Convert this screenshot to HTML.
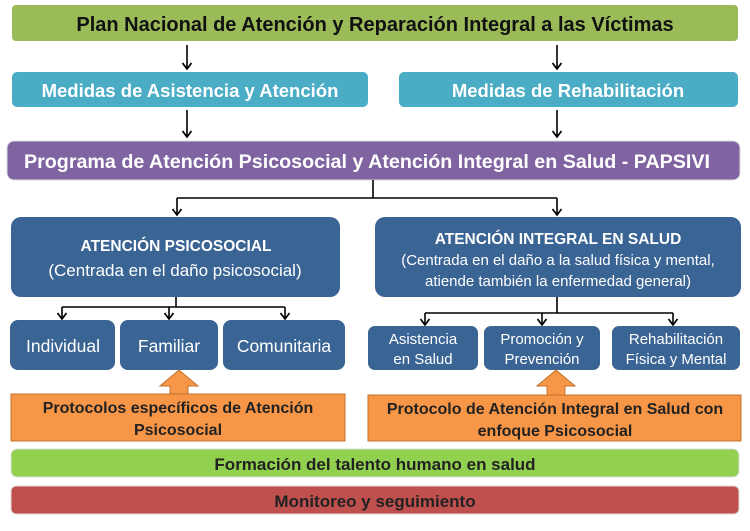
<!DOCTYPE html>
<html><head><meta charset="utf-8"><style>
html,body{margin:0;padding:0;background:#fff;}
svg{display:block;font-family:"Liberation Sans",sans-serif;}
</style></head><body>
<svg width="750" height="531" viewBox="0 0 750 531" xmlns="http://www.w3.org/2000/svg">
<defs>
<marker id="a" markerWidth="12" markerHeight="12" refX="9" refY="6" orient="auto" markerUnits="userSpaceOnUse">
<path d="M3,1.5 L9,6 L3,10.5" fill="none" stroke="#000" stroke-width="1.7"/>
</marker>
</defs>
<rect x="0" y="0" width="750" height="531" fill="#fff"/>
<rect x="12" y="5" width="726" height="36" rx="4" fill="#9bbb59"/>
<text x="375" y="31" text-anchor="middle" font-size="20" font-weight="bold" fill="#111">Plan Nacional de Atención y Reparación Integral a las Víctimas</text>
<line x1="187" y1="45" x2="187" y2="69" stroke="#000" stroke-width="1.6" marker-end="url(#a)"/>
<line x1="557" y1="45" x2="557" y2="69" stroke="#000" stroke-width="1.6" marker-end="url(#a)"/>
<rect x="12" y="72" width="356" height="35" rx="5" fill="#4bacc6"/>
<rect x="399" y="72" width="339" height="35" rx="5" fill="#4bacc6"/>
<text x="190" y="97" text-anchor="middle" font-size="18.5" font-weight="bold" fill="#fff">Medidas de Asistencia y Atención</text>
<text x="568" y="97" text-anchor="middle" font-size="18.5" font-weight="bold" fill="#fff">Medidas de Rehabilitación</text>
<line x1="187" y1="110" x2="187" y2="137" stroke="#000" stroke-width="1.6" marker-end="url(#a)"/>
<line x1="557" y1="110" x2="557" y2="137" stroke="#000" stroke-width="1.6" marker-end="url(#a)"/>
<rect x="7" y="141" width="733" height="39" rx="7" fill="#8064a2" stroke="#ddd" stroke-width="1"/>
<text x="367" y="168" text-anchor="middle" font-size="19.5" font-weight="bold" fill="#fff" textLength="686" lengthAdjust="spacingAndGlyphs">Programa de Atención Psicosocial y Atención Integral en Salud - PAPSIVI</text>
<line x1="373" y1="180" x2="373" y2="198" stroke="#000" stroke-width="1.6"/>
<line x1="177" y1="198" x2="557" y2="198" stroke="#000" stroke-width="1.6"/>
<line x1="177" y1="198" x2="177" y2="215" stroke="#000" stroke-width="1.6" marker-end="url(#a)"/>
<line x1="557" y1="198" x2="557" y2="215" stroke="#000" stroke-width="1.6" marker-end="url(#a)"/>
<rect x="11" y="217" width="329" height="80" rx="10" fill="#3a6494"/>
<text x="176" y="251" text-anchor="middle" font-size="15.5" font-weight="bold" fill="#fff">ATENCIÓN PSICOSOCIAL</text>
<text x="175" y="276" text-anchor="middle" font-size="17" fill="#fff">(Centrada  en el daño psicosocial)</text>
<rect x="375" y="217" width="366" height="80" rx="10" fill="#3a6494"/>
<text x="558" y="244" text-anchor="middle" font-size="15.5" font-weight="bold" fill="#fff">ATENCIÓN INTEGRAL EN SALUD</text>
<text x="558" y="265" text-anchor="middle" font-size="15" fill="#fff">(Centrada  en el daño a la salud física y mental,</text>
<text x="558" y="286" text-anchor="middle" font-size="15" fill="#fff">atiende también la enfermedad general)</text>
<line x1="176" y1="297" x2="176" y2="307" stroke="#000" stroke-width="1.6"/>
<line x1="62" y1="307" x2="285" y2="307" stroke="#000" stroke-width="1.6"/>
<line x1="62" y1="307" x2="62" y2="319" stroke="#000" stroke-width="1.6" marker-end="url(#a)"/>
<line x1="169" y1="307" x2="169" y2="319" stroke="#000" stroke-width="1.6" marker-end="url(#a)"/>
<line x1="285" y1="307" x2="285" y2="319" stroke="#000" stroke-width="1.6" marker-end="url(#a)"/>
<line x1="557" y1="297" x2="557" y2="313" stroke="#000" stroke-width="1.6"/>
<line x1="425" y1="313" x2="673" y2="313" stroke="#000" stroke-width="1.6"/>
<line x1="425" y1="313" x2="425" y2="325" stroke="#000" stroke-width="1.6" marker-end="url(#a)"/>
<line x1="542" y1="313" x2="542" y2="325" stroke="#000" stroke-width="1.6" marker-end="url(#a)"/>
<line x1="673" y1="313" x2="673" y2="325" stroke="#000" stroke-width="1.6" marker-end="url(#a)"/>
<rect x="10" y="320" width="105" height="50" rx="8" fill="#3a6494"/>
<rect x="120" y="320" width="98" height="50" rx="8" fill="#3a6494"/>
<rect x="223" y="320" width="122" height="50" rx="8" fill="#3a6494"/>
<text x="63" y="352" text-anchor="middle" font-size="17.5" fill="#fff">Individual</text>
<text x="169" y="352" text-anchor="middle" font-size="17.5" fill="#fff">Familiar</text>
<text x="284" y="352" text-anchor="middle" font-size="17.5" fill="#fff">Comunitaria</text>
<rect x="368" y="326" width="110" height="44" rx="7" fill="#3a6494"/>
<rect x="484" y="326" width="116" height="44" rx="7" fill="#3a6494"/>
<rect x="612" y="326" width="128" height="44" rx="7" fill="#3a6494"/>
<text x="423" y="344" text-anchor="middle" font-size="15" fill="#fff">Asistencia</text>
<text x="423" y="364" text-anchor="middle" font-size="15" fill="#fff">en Salud</text>
<text x="542" y="344" text-anchor="middle" font-size="15" fill="#fff">Promoción y</text>
<text x="542" y="364" text-anchor="middle" font-size="15" fill="#fff">Prevención</text>
<text x="676" y="344" text-anchor="middle" font-size="15" fill="#fff">Rehabilitación</text>
<text x="676" y="364" text-anchor="middle" font-size="15" fill="#fff">Física y Mental</text>
<polygon points="179,370 198,386 188,386 188,394 170,394 170,386 160,386" fill="#f79646" stroke="#c0712d" stroke-width="1"/>
<polygon points="556,370 575,386 565,386 565,396 547,396 547,386 537,386" fill="#f79646" stroke="#c0712d" stroke-width="1"/>
<rect x="11" y="394" width="334" height="47" fill="#f79646" stroke="#c0712d" stroke-width="1"/>
<text x="178" y="413" text-anchor="middle" font-size="16" font-weight="bold" fill="#222">Protocolos específicos de Atención</text>
<text x="178" y="435" text-anchor="middle" font-size="16" font-weight="bold" fill="#222">Psicosocial</text>
<rect x="368" y="395" width="373" height="46" fill="#f79646" stroke="#c0712d" stroke-width="1"/>
<text x="555" y="414" text-anchor="middle" font-size="16" font-weight="bold" fill="#222">Protocolo de Atención Integral en Salud con</text>
<text x="555" y="436" text-anchor="middle" font-size="16" font-weight="bold" fill="#222">enfoque Psicosocial</text>
<rect x="11" y="449" width="728" height="28" rx="6" fill="#92d050" stroke="#ddd" stroke-width="1"/>
<text x="375" y="470" text-anchor="middle" font-size="17" font-weight="bold" fill="#222">Formación del talento humano en salud</text>
<rect x="11" y="486" width="728" height="28" rx="5" fill="#c0504d" stroke="#ddd" stroke-width="1"/>
<text x="375" y="507" text-anchor="middle" font-size="17" font-weight="bold" fill="#222">Monitoreo y seguimiento</text>
</svg>
</body></html>
